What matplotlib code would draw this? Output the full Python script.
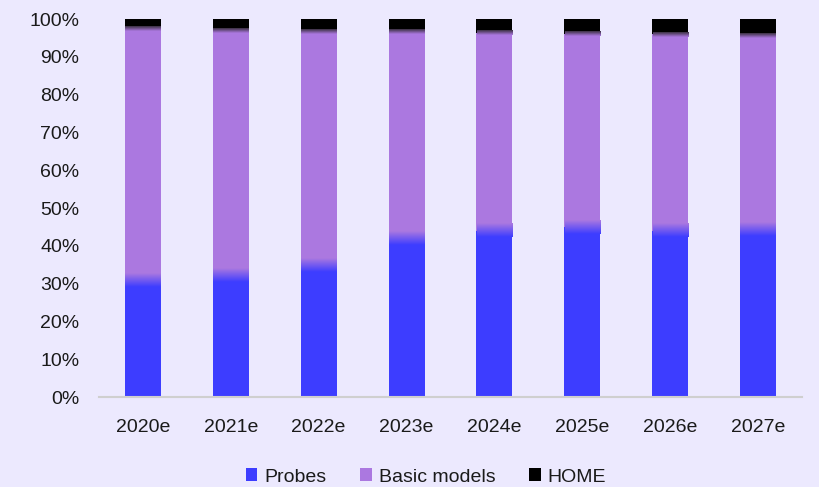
import matplotlib
matplotlib.use("Agg")
import matplotlib.pyplot as plt
from matplotlib.colors import to_rgb
import numpy as np

years = ["2020e", "2021e", "2022e", "2023e", "2024e", "2025e", "2026e", "2027e"]
probes = [31.0, 32.3, 35.0, 42.0, 44.0, 45.0, 44.0, 44.5]
home = [2.6, 3.2, 3.3, 3.5, 3.7, 4.0, 4.1, 4.5]
basic = [100 - p - h for p, h in zip(probes, home)]

c_probes = "#3d3dff"
c_basic = "#ab78e0"
c_home = "#000000"
bg = "#ece9fe"
txt = "#1a1a1a"

plt.rcParams["font.family"] = ["Liberation Sans", "DejaVu Sans"]

fig = plt.figure(figsize=(8.19, 4.87), dpi=100, facecolor=bg)
ax = fig.add_axes([99 / 819, 1 - 397 / 487, 703 / 819, 378 / 487])
ax.set_facecolor(bg)

x = np.arange(len(years))
w = 0.41
ax.bar(x, probes, w, color=c_probes, label="Probes")
ax.bar(x, basic, w, bottom=probes, color=c_basic, label="Basic models")
tops = [p + b for p, b in zip(probes, basic)]
ax.bar(x, home, w, bottom=tops, color=c_home, label="HOME")


def soft_edge(xc, y, half, c_low, c_high):
    """Blend two stacked colours over a short band centred on y."""
    lo, hi = np.array(to_rgb(c_low)), np.array(to_rgb(c_high))
    t = np.linspace(0, 1, 64)[:, None]
    grad = (lo * (1 - t) + hi * t)[:, None, :]
    inset = 0.004
    ax.imshow(grad, extent=[xc - w / 2 + inset, xc + w / 2 - inset, y - half, y + half],
              origin="lower", aspect="auto", interpolation="bilinear", zorder=3)


for xi, p, t in zip(x, probes, tops):
    soft_edge(xi, p, 1.8, c_probes, c_basic)
    soft_edge(xi, t, 0.6, c_basic, "#3a3040")

ax.set_xlim(-0.5, len(years) - 0.5)
ax.set_ylim(0, 100)
ax.set_yticks(np.arange(0, 101, 10))
ax.set_yticklabels([f"{v}%" for v in range(0, 101, 10)])
ax.set_xticks(x)
ax.set_xticklabels(years)
ax.tick_params(axis="both", length=0, labelsize=14, colors=txt)
ax.tick_params(axis="y", pad=14)
ax.tick_params(axis="x", pad=15.5)
for s in ["top", "right", "left"]:
    ax.spines[s].set_visible(False)
ax.spines["bottom"].set_color("#cfcfcf")
ax.spines["bottom"].set_linewidth(1.5)
ax.spines["bottom"].set_zorder(4)

fig.legend(loc="center", bbox_to_anchor=(426 / 819, 1 - 477 / 487), ncol=3,
           frameon=False, fontsize=14, handlelength=0.6, handleheight=0.6,
           handletextpad=0.35, columnspacing=1.75, labelcolor=txt)

fig.savefig("out.png", dpi=100, facecolor=bg)
